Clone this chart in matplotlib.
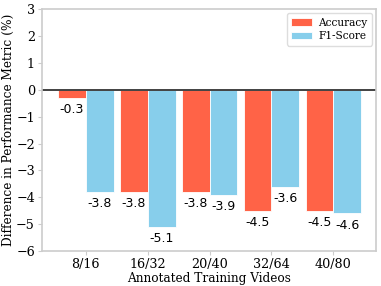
import matplotlib
matplotlib.use("Agg")
import matplotlib.pyplot as plt
import numpy as np

groups = ['8/16', '16/32', '20/40', '32/64', '40/80']
accuracy = [-0.3, -3.8, -3.8, -4.5, -4.5]
f1_score = [-3.8, -5.1, -3.9, -3.6, -4.6]

plt.rcParams['font.family'] = 'DejaVu Serif'

fig, ax = plt.subplots(figsize=(3.81, 2.86), dpi=100)
x = np.arange(len(groups))
w = 0.45
b1 = ax.bar(x - w/2, accuracy, w, color='#FF6347', edgecolor='white', linewidth=0.6, label='Accuracy')
b2 = ax.bar(x + w/2, f1_score, w, color='#87CEEB', edgecolor='white', linewidth=0.6, label='F1-Score')

# value labels under each bar
for bars, vals in [(b1, accuracy), (b2, f1_score)]:
    for r, v in zip(bars, vals):
        ax.text(r.get_x() + r.get_width()/2, v - 0.2, f'{v:.1f}',
                ha='center', va='top', fontsize=9, family='DejaVu Sans')

ax.axhline(0, color='#333333', linewidth=1.3)
ax.set_ylim(-6, 3)
ax.set_xlim(-0.71, 4.69)
ax.set_xticks(x)
ax.set_xticklabels(groups)
ax.set_yticks(range(-6, 4))
ax.tick_params(labelsize=9.2, length=3, color='#cccccc', width=0.8, pad=2)
for s in ax.spines.values():
    s.set_color('#cccccc')
    s.set_linewidth(1.2)
ax.set_xlabel('Annotated Training Videos', fontsize=8.7, labelpad=1)
ax.set_ylabel('Difference in Performance Metric (%)', fontsize=8.7)
ax.yaxis.set_label_coords(-0.08, 0.5)
leg = ax.legend(loc='upper right', fontsize=7.6, framealpha=1, edgecolor='#dddddd',
                fancybox=True, handlelength=2.0, handletextpad=0.6,
                borderaxespad=0.4, labelspacing=0.35)

fig.subplots_adjust(left=0.11, right=0.987, top=0.968, bottom=0.122)
fig.savefig('out.png', dpi=100)
